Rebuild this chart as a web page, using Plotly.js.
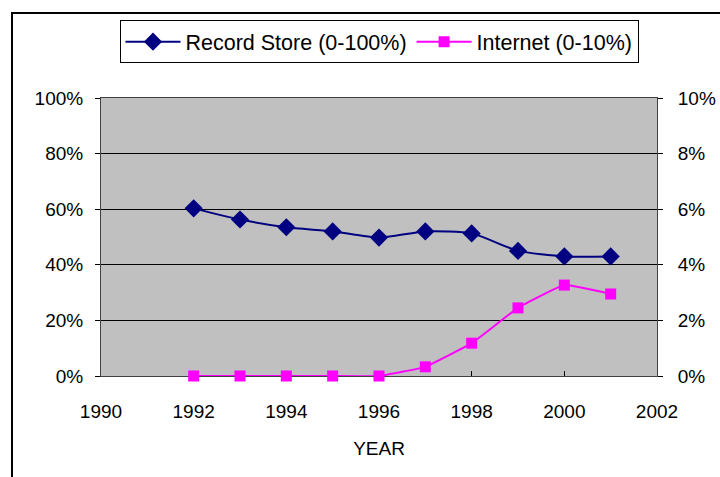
<!DOCTYPE html>
<html>
<head>
<meta charset="utf-8">
<script src="https://cdn.plot.ly/plotly-3.0.1.min.js"></script>
<style>
  html, body { margin: 0; padding: 0; background: #ffffff; }
  #wrap { position: relative; width: 720px; height: 477px; overflow: hidden; }
  #chart { width: 720px; height: 477px; }
  #frame { position: absolute; left: 11px; top: 12px; width: 760px; height: 520px;
           border-left: 2px solid #000; border-top: 2px solid #000; pointer-events: none; }
</style>
</head>
<body>
<div id="wrap">
<div id="chart"></div>
<div id="frame"></div>
</div>
<script>
const years = [1992, 1993, 1994, 1995, 1996, 1997, 1998, 1999, 2000, 2001];
const recordStore = [60.3, 56.3, 53.5, 52.0, 49.8, 52.0, 51.3, 45.0, 43.0, 43.0];
const internet = [0, 0, 0, 0, 0, 0.33, 1.18, 2.45, 3.27, 2.95];
const xTickVals = [1990, 1992, 1994, 1996, 1998, 2000, 2002];
const yLeftTicks = [0, 20, 40, 60, 80, 100];
const yRightTicks = [0, 2, 4, 6, 8, 10];

const FONT = '"Liberation Sans", Arial, sans-serif';

const traces = [
  {
    x: years, y: recordStore, name: 'Record Store (0-100%)',
    type: 'scatter', mode: 'lines+markers', yaxis: 'y', cliponaxis: false,
    line: { color: '#000080', width: 2, shape: 'spline', smoothing: 0.6 },
    marker: { symbol: 'diamond', size: 14, color: '#000080' }
  },
  {
    x: years, y: internet, name: 'Internet (0-10%)',
    type: 'scatter', mode: 'lines+markers', yaxis: 'y2', cliponaxis: false,
    line: { color: '#FF00FF', width: 2, shape: 'spline', smoothing: 0.3 },
    marker: { symbol: 'square', size: 11, color: '#FF00FF' }
  }
];

const layout = {
  width: 720, height: 477,
  margin: { l: 101, r: 63, t: 98, b: 101 },
  paper_bgcolor: '#ffffff',
  plot_bgcolor: '#C0C0C0',
  font: { family: FONT, size: 19, color: '#000000' },
  showlegend: true,
  legend: {
    orientation: 'h', x: 0.5, xanchor: 'center', y: 1.28, yanchor: 'top',
    bordercolor: '#000000', borderwidth: 1, bgcolor: '#ffffff',
    font: { family: FONT, size: 21.5 }, itemwidth: 55, tracegroupgap: 0
  },
  xaxis: {
    range: [1990, 2002], tickvals: xTickVals, ticktext: xTickVals.map(String),
    ticks: 'inside', ticklen: 5, tickcolor: '#000000', tickwidth: 1,
    showgrid: false, zeroline: false, layer: 'below traces',
    showline: true, linecolor: '#404040', linewidth: 1, mirror: true,
    ticklabelstandoff: 18,
    title: { text: 'YEAR', font: { family: FONT, size: 19 }, standoff: 20 }
  },
  yaxis: {
    range: [0, 100], tickvals: yLeftTicks, ticktext: yLeftTicks.map(v => v + '%'),
    ticks: 'outside', ticklen: 5, tickcolor: '#000000',
    showgrid: true, gridcolor: '#000000', gridwidth: 1,
    zeroline: false, showline: true, linecolor: '#404040', linewidth: 1,
    ticklabelstandoff: 8
  },
  yaxis2: {
    range: [0, 10], tickvals: yRightTicks, ticktext: yRightTicks.map(v => v + '%'),
    overlaying: 'y', side: 'right',
    ticks: 'outside', ticklen: 5, tickcolor: '#000000',
    showgrid: false, zeroline: false, showline: true, linecolor: '#404040', linewidth: 1,
    ticklabelstandoff: 11
  }
};

Plotly.newPlot('chart', traces, layout, { displayModeBar: false, staticPlot: true });
</script>
</body>
</html>
